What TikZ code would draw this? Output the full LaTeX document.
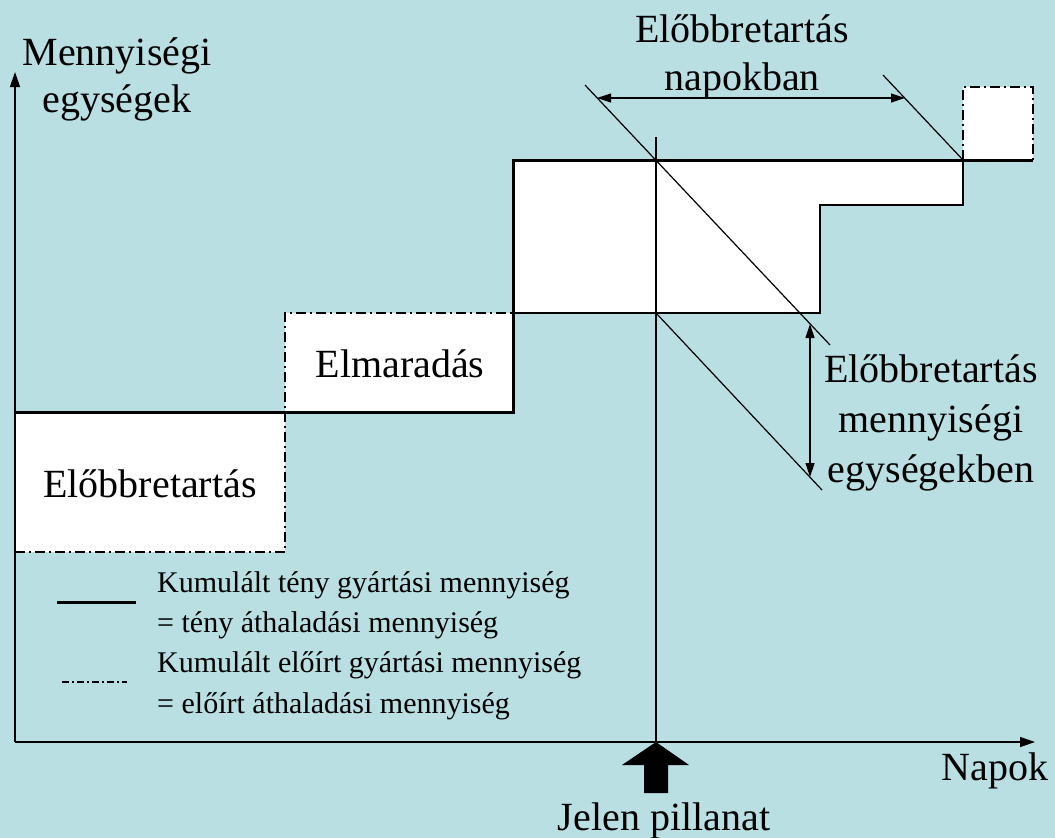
\documentclass[tikz,border=0pt]{standalone}
\usepackage{fontspec}
\setmainfont{Liberation Serif}
\usetikzlibrary{arrows.meta}
\definecolor{bgblue}{RGB}{185,223,227}
\begin{document}
\begin{tikzpicture}[x=1pt,y=-1pt,
  thinline/.style={line width=1.2pt},
  actual/.style={line width=3pt},
  planned/.style={line width=2pt, dash pattern=on 10pt off 4pt on 2pt off 4pt},
  axis/.style={thinline, -{Triangle[length=15pt,width=10pt]}},
  dimline/.style={thinline, {Triangle[length=14pt,width=9pt]}-{Triangle[length=14pt,width=9pt]}},
  lbl/.style={font=\fontsize{40}{48}\selectfont, inner sep=0pt, align=center, anchor=base},
  legendtext/.style={font=\fontsize{30}{39.5}\selectfont, inner sep=0pt, align=left, anchor=base west}]

% background and fixed page size
\fill[bgblue] (0,0) rectangle (1055,838);
\useasboundingbox (0,0) rectangle (1055,838);

% key points
\coordinate (O) at (15,742);
\coordinate (ytip) at (15,72);
\coordinate (xtip) at (1035,742);
\coordinate (now) at (656,742);
\coordinate (nowtop) at (656,137);

% white regions between the two curves
\fill[white] (15,412) rectangle (285,552);
\fill[white] (285,313) rectangle (513,412);
\fill[white] (513,160) -- (963,160) -- (963,205) -- (820,205) -- (820,313) -- (513,313) -- cycle;
\fill[white] (963,87) rectangle (1033,160);

% axes
\draw[axis] (O) -- (ytip);
\draw[axis] (O) -- (xtip);

% present moment line
\draw[thinline] (now) -- (nowtop);

% planned (cumulative prescribed) curve
\draw[planned] (15,412) -- (15,552) -- (285,552) -- (285,313) -- (513,313);
\draw[planned] (963,160) -- (963,87) -- (1033,87) -- (1033,160);
\draw[thinline] (513,313) -- (820,313) -- (820,205) -- (963,205) -- (963,160);

% actual (cumulative) curve
\draw[actual] (15,412) -- (513,412) -- (513,160) -- (1033,160);

% slanted reference lines
\coordinate (d1a) at (585,85);
\coordinate (d1b) at (830,345);
\coordinate (d2a) at (656,313);
\coordinate (d2b) at (822,490);
\coordinate (d3a) at (883,75);
\coordinate (d3b) at (963,160);
\draw[thinline] (d1a) -- (d1b);
\draw[thinline] (d2a) -- (d2b);
\draw[thinline] (d3a) -- (d3b);

% dimension arrows
\coordinate (hL) at (597,98);
\coordinate (hR) at (905,98);
\coordinate (vT) at (810,324);
\coordinate (vB) at (810,477);
\draw[dimline] (hL) -- (hR);
\draw[dimline] (vT) -- (vB);

% present moment marker
\fill[black] (now) -- (689,765) -- (668,765) -- (668,793) -- (644,793) -- (644,765) -- (622,765) -- cycle;

% labels (base anchor = baseline of the last line)
\node[lbl, font=\fontsize{40}{47}\selectfont] (ylabel) at (117,112) {Mennyiségi\\egységek};
\node[lbl] (xlabel) at (995,780) {Napok};
\node[lbl] (nowlabel) at (664,830) {Jelen pillanat};
\node[lbl] (daylead) at (742,90) {Előbbretartás\\napokban};
\node[lbl, font=\fontsize{40}{50}\selectfont] (qtylead) at (931,482) {Előbbretartás\\mennyiségi\\egységekben};
\node[lbl] (backlog) at (400,377) {Elmaradás};
\node[lbl] (lead) at (150,497) {Előbbretartás};

% legend
\coordinate (la1) at (57,602);
\coordinate (la2) at (136,602);
\coordinate (lb1) at (62,682);
\coordinate (lb2) at (127,682);
\draw[actual] (la1) -- (la2);
\draw[line width=2pt, dash pattern=on 7pt off 3pt on 2pt off 3pt] (lb1) -- (lb2);
\node[legendtext] (legact) at (157,632) {Kumulált tény gyártási mennyiség\\= tény áthaladási mennyiség};
\node[legendtext, font=\fontsize{30}{41}\selectfont] (legplan) at (157,713) {Kumulált előírt gyártási mennyiség\\= előírt áthaladási mennyiség};
\end{tikzpicture}
\end{document}
